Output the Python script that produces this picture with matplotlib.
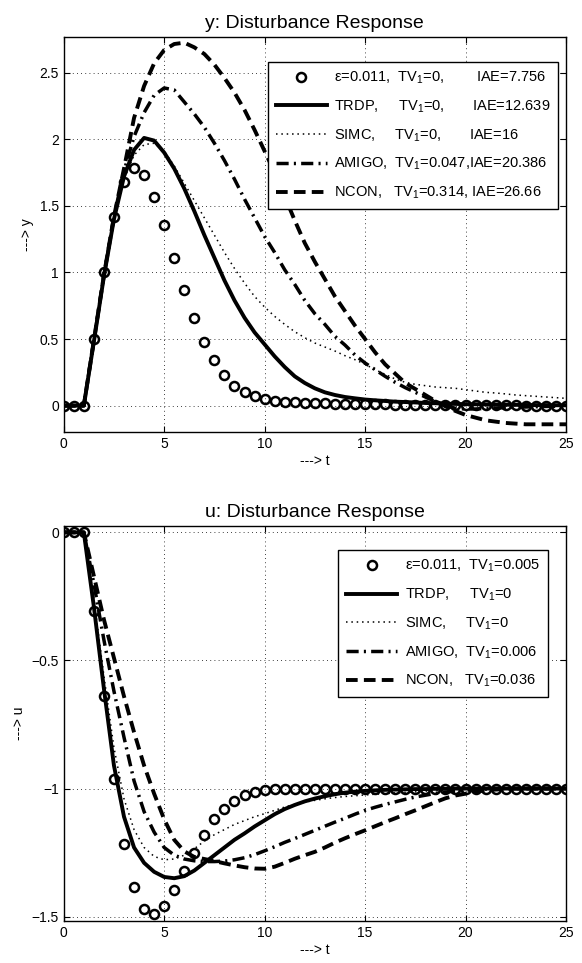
import numpy as np
import matplotlib
matplotlib.use('Agg')
import matplotlib.pyplot as plt
from matplotlib.ticker import FuncFormatter

plt.rcParams['font.family'] = ['Liberation Sans', 'DejaVu Sans']
plt.rcParams['mathtext.fontset'] = 'custom'
plt.rcParams['mathtext.rm'] = 'Liberation Sans'
plt.rcParams['mathtext.default'] = 'regular'

# ===== DATA (sampled every 0.5 s) =====
t = np.linspace(0, 25, 51)

# y: disturbance response
y_eps = [0, 0, 0, 0.50, 1.00, 1.42, 1.68, 1.785, 1.73, 1.57,
         1.355, 1.11, 0.87, 0.66, 0.48, 0.34, 0.23, 0.15, 0.10, 0.07,
         0.05, 0.038, 0.03, 0.026, 0.023, 0.02, 0.018, 0.016, 0.014, 0.012,
         0.011, 0.01, 0.009, 0.008, 0.007, 0.006, 0.005, 0.005, 0.004, 0.004,
         0.003, 0.003, 0.003, 0.002, 0.002, 0.002, 0.001, 0.001, 0.001, 0.001,
         0.0]
y_trdp = [0, 0, 0, 0.48, 0.97, 1.40, 1.72, 1.92, 2.01, 1.99,
          1.90, 1.78, 1.63, 1.46, 1.28, 1.11, 0.94, 0.79, 0.66, 0.55,
          0.46, 0.37, 0.29, 0.22, 0.17, 0.13, 0.10, 0.08, 0.065, 0.055,
          0.046, 0.04, 0.035, 0.03, 0.027, 0.024, 0.02, 0.018, 0.015, 0.013,
          0.011, 0.01, 0.009, 0.008, 0.007, 0.006, 0.005, 0.004, 0.004, 0.003,
          0.003]
y_simc = [0, 0, 0, 0.48, 0.97, 1.39, 1.70, 1.88, 1.96, 1.97,
          1.91, 1.80, 1.67, 1.54, 1.41, 1.28, 1.15, 1.03, 0.92, 0.82,
          0.74, 0.67, 0.61, 0.555, 0.51, 0.47, 0.44, 0.41, 0.375, 0.345,
          0.31, 0.27, 0.235, 0.20, 0.175, 0.16, 0.15, 0.14, 0.135, 0.13,
          0.12, 0.11, 0.10, 0.095, 0.088, 0.08, 0.075, 0.07, 0.065, 0.06,
          0.055]
y_amigo = [0, 0, 0, 0.49, 0.98, 1.42, 1.76, 2.02, 2.20, 2.33,
           2.385, 2.37, 2.28, 2.19, 2.09, 1.97, 1.84, 1.70, 1.55, 1.41,
           1.27, 1.15, 1.02, 0.91, 0.79, 0.69, 0.61, 0.52, 0.455, 0.38,
           0.32, 0.27, 0.22, 0.175, 0.135, 0.10, 0.065, 0.03, 0.0, -0.02,
           -0.025, -0.025, -0.02, -0.018, -0.015, -0.012, -0.01, -0.008, -0.006, -0.005,
           -0.005]
y_ncon = [0, 0, 0, 0.49, 0.98, 1.42, 1.78, 2.16, 2.40, 2.57,
          2.67, 2.715, 2.725, 2.69, 2.64, 2.56, 2.46, 2.35, 2.22, 2.07,
          1.91, 1.75, 1.57, 1.39, 1.22, 1.08, 0.95, 0.82, 0.71, 0.60,
          0.50, 0.40, 0.31, 0.24, 0.17, 0.125, 0.08, 0.035, -0.005, -0.04,
          -0.07, -0.09, -0.11, -0.12, -0.13, -0.135, -0.14, -0.14, -0.14, -0.14,
          -0.14]

# u: disturbance response
u_eps = [0, 0, 0, -0.305, -0.64, -0.964, -1.217, -1.386, -1.47, -1.49,
         -1.457, -1.396, -1.32, -1.25, -1.18, -1.12, -1.08, -1.048, -1.026, -1.013,
         -1.006, -1.003, -1.001, -1.0, -1.0, -1.0, -1.0, -1.0, -1.0, -1.0,
         -1.0, -1.0, -1.0, -1.0, -1.0, -1.0, -1.0, -1.0, -1.0, -1.0,
         -1.0, -1.0, -1.0, -1.0, -1.0, -1.0, -1.0, -1.0, -1.0, -1.0,
         -1.0]
u_trdp = [0, 0, 0, -0.29, -0.61, -0.91, -1.11, -1.23, -1.29, -1.325,
          -1.345, -1.35, -1.342, -1.32, -1.29, -1.26, -1.23, -1.20, -1.175, -1.148,
          -1.124, -1.10, -1.08, -1.064, -1.05, -1.039, -1.03, -1.022, -1.016, -1.012,
          -1.009, -1.007, -1.005, -1.004, -1.003, -1.002, -1.002, -1.001, -1.001, -1.0,
          -1.0, -1.0, -1.0, -1.0, -1.0, -1.0, -1.0, -1.0, -1.0, -1.0,
          -1.0]
u_simc = [0, 0, 0, -0.26, -0.56, -0.84, -1.04, -1.16, -1.23, -1.265,
          -1.278, -1.275, -1.26, -1.235, -1.205, -1.18, -1.16, -1.14, -1.125, -1.11,
          -1.098, -1.085, -1.072, -1.062, -1.053, -1.046, -1.04, -1.035, -1.031, -1.028,
          -1.025, -1.022, -1.02, -1.017, -1.015, -1.013, -1.01, -1.008, -1.006, -1.004,
          -1.003, -1.002, -1.001, -1.001, -1.0, -1.0, -1.0, -1.0, -1.0, -1.0,
          -1.0]
u_amigo = [0, 0, 0, -0.20, -0.42, -0.62, -0.80, -0.97, -1.09, -1.17,
           -1.23, -1.26, -1.275, -1.282, -1.285, -1.285, -1.283, -1.278, -1.27, -1.258,
           -1.243, -1.227, -1.21, -1.195, -1.179, -1.163, -1.147, -1.131, -1.116, -1.10,
           -1.085, -1.073, -1.062, -1.052, -1.042, -1.033, -1.026, -1.019, -1.014, -1.01,
           -1.007, -1.004, -1.002, -1.0, -1.0, -1.0, -1.0, -1.0, -1.0, -1.0,
           -1.0]
u_ncon = [0, 0, 0, -0.17, -0.34, -0.49, -0.64, -0.78, -0.91, -1.02,
          -1.12, -1.20, -1.245, -1.267, -1.275, -1.283, -1.292, -1.30, -1.307, -1.312,
          -1.313, -1.305, -1.29, -1.274, -1.26, -1.247, -1.23, -1.211, -1.194, -1.178,
          -1.163, -1.147, -1.131, -1.116, -1.10, -1.085, -1.069, -1.053, -1.038, -1.027,
          -1.02, -1.012, -1.007, -1.004, -1.002, -1.0, -1.0, -1.0, -1.0, -1.0,
          -1.0]

y_labels = ['\u03b5=0.011,  TV$_1$=0,        IAE=7.756',
            'TRDP,     TV$_1$=0,       IAE=12.639',
            'SIMC,     TV$_1$=0,       IAE=16',
            'AMIGO,  TV$_1$=0.047,IAE=20.386',
            'NCON,   TV$_1$=0.314, IAE=26.66']
u_labels = ['\u03b5=0.011,  TV$_1$=0.005',
            'TRDP,     TV$_1$=0',
            'SIMC,     TV$_1$=0',
            'AMIGO,  TV$_1$=0.006',
            'NCON,   TV$_1$=0.036']

# matlab style tick labels: 0, 0.5, 1, ... with a real minus sign
tick_fmt = FuncFormatter(lambda v, pos: ('%g' % v).replace('-', '\u2212'))


def draw(ax, series, labels, title, ylabel, ylim, yticks, legend_anchor):
    eps, trdp, simc, amigo, ncon = series
    ax.plot(t, eps, 'o', mfc='none', mec='black', ms=6.5, mew=1.8, label=labels[0])
    ax.plot(t, trdp, '-', color='black', lw=2.8, label=labels[1])
    ax.plot(t, simc, color='black', lw=1.1, linestyle=(0, (1, 2.5)), label=labels[2])
    ax.plot(t, amigo, color='black', lw=2.5, linestyle=(0, (3.5, 1.5, 0.6, 1.5)), label=labels[3])
    ax.plot(t, ncon, color='black', lw=2.8, linestyle=(0, (3, 1.6)), label=labels[4])

    ax.set_xlim(0, 25)
    ax.set_ylim(*ylim)
    ax.set_xticks([0, 5, 10, 15, 20, 25])
    ax.set_yticks(yticks)
    ax.xaxis.set_major_formatter(tick_fmt)
    ax.yaxis.set_major_formatter(tick_fmt)
    ax.grid(True, color='black', linestyle=(0, (1, 4)), lw=0.6)
    ax.tick_params(direction='in', top=True, right=True, length=4, labelsize=10, width=0.8)
    for s in ax.spines.values():
        s.set_linewidth(1.0)
    ax.set_title(title, fontsize=14, pad=6)
    ax.set_xlabel('---> t', fontsize=10, labelpad=2)
    ax.set_ylabel(ylabel, fontsize=10, labelpad=4)

    leg = ax.legend(loc='upper right', bbox_to_anchor=legend_anchor, borderaxespad=0,
                    fancybox=False, framealpha=1, edgecolor='black', fontsize=10.5,
                    numpoints=1, handlelength=3.5, handletextpad=0.5,
                    labelspacing=0.85, borderpad=0.55)
    leg.get_frame().set_linewidth(1.0)


fig = plt.figure(figsize=(5.82, 9.63), dpi=100)
ax1 = fig.add_axes([0.1095, 0.5511, 0.863, 0.4108])
ax2 = fig.add_axes([0.1095, 0.0436, 0.863, 0.4105])

draw(ax1, (y_eps, y_trdp, y_simc, y_amigo, y_ncon), y_labels,
     'y: Disturbance Response', '---> y', (-0.2, 2.77),
     [0, 0.5, 1, 1.5, 2, 2.5], (0.985, 0.937))
draw(ax2, (u_eps, u_trdp, u_simc, u_amigo, u_ncon), u_labels,
     'u: Disturbance Response', '---> u', (-1.517, 0.026),
     [-1.5, -1, -0.5, 0], (0.964, 0.939))

fig.savefig('out.png', dpi=100, facecolor='white')
